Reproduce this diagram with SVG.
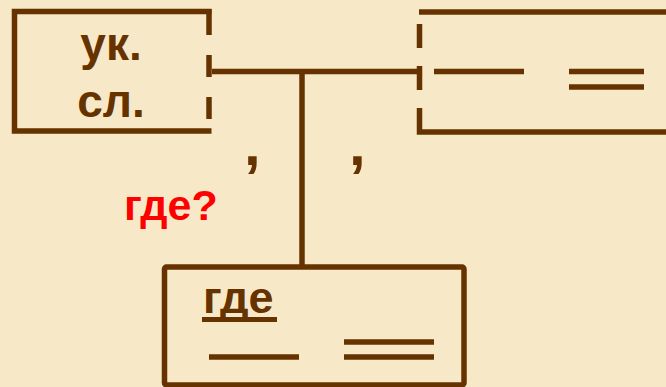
<svg xmlns="http://www.w3.org/2000/svg" width="666" height="387" viewBox="0 0 666 387">
<style>
.ln{fill:none;stroke:#663300;stroke-width:5.5;stroke-linecap:butt;stroke-linejoin:miter}
.t{font-family:"Liberation Sans",Arial,sans-serif;font-weight:bold;fill:#663300}
.r{font-family:"Liberation Sans",Arial,sans-serif;font-weight:bold;fill:#ff0000}
</style>
<rect width="666" height="387" fill="#f7e9c8"/>
<g id="connectors">
<path class="ln" d="M212,71.5 H419"/>
<path class="ln" d="M302,71.5 V267"/>
</g>
<g id="node-left">
<path class="ln" d="M211.5,11.5 H14.5 V131 H211.5"/>
<path class="ln" d="M209,9 V35 M209,55 V77 M209,97 V119"/>
<text class="t" x="111" y="60" font-size="46" text-anchor="middle">ук.</text>
<text class="t" x="111" y="117" font-size="46" text-anchor="middle">сл.</text>
</g>
<g id="node-right">
<path class="ln" d="M419,12 H670"/>
<path class="ln" d="M419.5,24 V48 M419.5,66 V90"/>
<path class="ln" d="M419.5,108 V132 H670"/>
<path class="ln" d="M434,71.5 H524 M569,71.5 H644 M569,87 H644"/>
</g>
<g id="commas">
<text class="t" x="244" y="165" font-size="60">,</text>
<text class="t" x="349" y="165" font-size="60">,</text>
</g>
<g id="question">
<text class="r" x="124" y="220" font-size="43">где?</text>
</g>
<g id="node-bottom">
<rect class="ln" x="164.5" y="267" width="299.5" height="118" rx="2" stroke-linejoin="round"/>
<text class="t" x="203" y="313" font-size="45">где</text>
<rect x="202" y="317" width="75" height="5" fill="#663300"/>
<path class="ln" d="M209,357 H299 M344,342 H434 M344,357 H434"/>
</g>
</svg>
